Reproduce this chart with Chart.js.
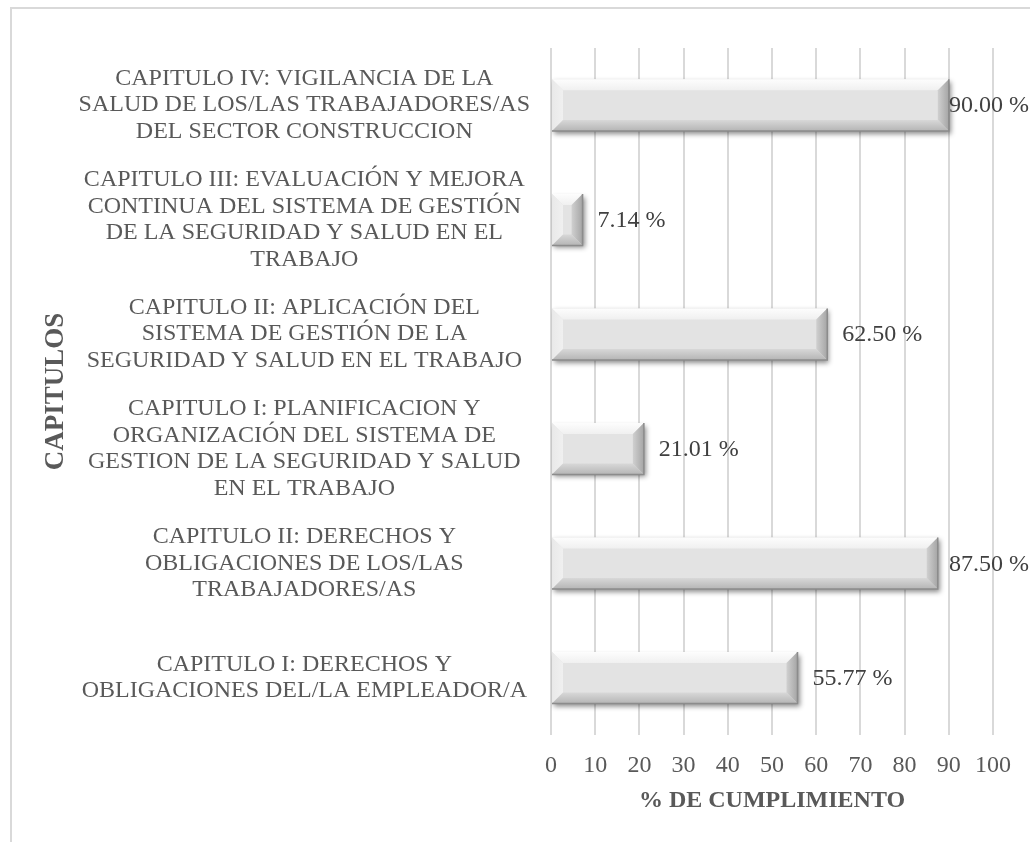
<!DOCTYPE html>
<html>
<head>
<meta charset="utf-8">
<script src="https://cdn.jsdelivr.net/npm/chart.js@4/dist/chart.umd.min.js"></script>
<style>
  html, body { margin: 0; padding: 0; background: #fff; }
  #wrap { width: 1030px; height: 842px; }
</style>
</head>
<body>
<div id="wrap"><canvas id="bar-chart"></canvas></div>
<script>
const categories = [
    ["CAPITULO IV: VIGILANCIA DE LA", "SALUD DE LOS/LAS TRABAJADORES/AS", "DEL SECTOR CONSTRUCCION"],
    ["CAPITULO III: EVALUACIÓN Y MEJORA", "CONTINUA DEL SISTEMA DE GESTIÓN", "DE LA SEGURIDAD Y SALUD EN EL", "TRABAJO"],
    ["CAPITULO II: APLICACIÓN DEL", "SISTEMA DE GESTIÓN DE LA", "SEGURIDAD Y SALUD EN EL TRABAJO"],
    ["CAPITULO I: PLANIFICACION Y", "ORGANIZACIÓN DEL SISTEMA DE", "GESTION DE LA SEGURIDAD Y SALUD", "EN EL TRABAJO"],
    ["CAPITULO II: DERECHOS Y", "OBLIGACIONES DE LOS/LAS", "TRABAJADORES/AS"],
    ["CAPITULO I: DERECHOS Y", "OBLIGACIONES DEL/LA EMPLEADOR/A"]
]
const cumplimiento = [90.00, 7.14, 62.50, 21.01, 87.50, 55.77]
const xTickValues = [0, 10, 20, 30, 40, 50, 60, 70, 80, 90, 100]
const xTitle = "% DE CUMPLIMIENTO"
const yTitle = "CAPITULOS"

const serif = "'Liberation Serif', 'Times New Roman', serif"
const textGrey = '#595959'

// marco del grafico (solo arriba e izquierda, el resto queda fuera)
const framePlugin = {
    id: 'frame',
    beforeDraw(chart) {
        const ctx = chart.ctx
        ctx.save()
        ctx.fillStyle = '#fff'
        ctx.fillRect(0, 0, chart.width, chart.height)
        ctx.strokeStyle = '#d9d9d9'
        ctx.lineWidth = 2
        ctx.beginPath()
        ctx.moveTo(chart.width, 8)
        ctx.lineTo(11, 8)
        ctx.lineTo(11, chart.height)
        ctx.stroke()
        ctx.restore()
    }
}

// sombra + bisel de las barras
const bevelPlugin = {
    id: 'bevel',
    beforeDatasetsDraw(chart) {
        const ctx = chart.ctx
        ctx.save()
        ctx.shadowColor = 'rgba(0,0,0,0.45)'
        ctx.shadowBlur = 5
        ctx.shadowOffsetX = 2
        ctx.shadowOffsetY = 3
    },
    afterDatasetsDraw(chart) {
        const ctx = chart.ctx
        ctx.restore()
        const meta = chart.getDatasetMeta(0)
        meta.data.forEach(bar => {
            const p = bar.getProps(['x', 'y', 'base', 'height'], true)
            const l = Math.min(p.x, p.base), r = Math.max(p.x, p.base)
            const t = p.y - p.height / 2, b = p.y + p.height / 2
            const bv = Math.min(11, (r - l) / 2, (b - t) / 2)
            const poly = (pts, color) => {
                ctx.beginPath()
                ctx.moveTo(pts[0][0], pts[0][1])
                pts.slice(1).forEach(q => ctx.lineTo(q[0], q[1]))
                ctx.closePath()
                ctx.fillStyle = color
                ctx.fill()
            }
            ctx.save()
            let g = ctx.createLinearGradient(0, t, 0, t + bv)
            g.addColorStop(0, '#fdfdfd'); g.addColorStop(1, '#f0f0f0')
            poly([[l, t], [r, t], [r - bv, t + bv], [l + bv, t + bv]], g)
            g = ctx.createLinearGradient(l, 0, l + bv, 0)
            g.addColorStop(0, '#e9e9e9'); g.addColorStop(1, '#f0f0f0')
            poly([[l, t], [l + bv, t + bv], [l + bv, b - bv], [l, b]], g)
            g = ctx.createLinearGradient(0, b - bv, 0, b)
            g.addColorStop(0, '#d8d8d8'); g.addColorStop(1, '#b5b5b5')
            poly([[l, b], [l + bv, b - bv], [r - bv, b - bv], [r, b]], g)
            g = ctx.createLinearGradient(r - bv, 0, r, 0)
            g.addColorStop(0, '#d0d0d0'); g.addColorStop(1, '#a5a5a5')
            poly([[r, t], [r, b], [r - bv, b - bv], [r - bv, t + bv]], g)
            ctx.strokeStyle = '#8c8c8c'
            ctx.lineWidth = 1.5
            ctx.beginPath()
            ctx.moveTo(r, t); ctx.lineTo(r, b); ctx.lineTo(l, b)
            ctx.stroke()
            ctx.restore()
        })
    }
}

// etiquetas de valor a la derecha de cada barra
const valueLabels = {
    id: 'valueLabels',
    afterDatasetsDraw(chart) {
        const ctx = chart.ctx
        const meta = chart.getDatasetMeta(0)
        ctx.save()
        ctx.font = '24px ' + serif
        ctx.fillStyle = '#404040'
        ctx.textAlign = 'left'
        ctx.textBaseline = 'middle'
        meta.data.forEach((bar, i) => {
            const txt = cumplimiento[i].toFixed(2) + ' %'
            const w = ctx.measureText(txt).width
            const x = Math.min(bar.x + 15, chart.width - w - 1)
            ctx.fillText(txt, x, bar.y + 1)
        })
        ctx.restore()
    }
}

const barConfig = {
    type: 'bar',
    data: {
        labels: categories,
        datasets: [{
            data: cumplimiento,
            backgroundColor: '#e3e3e3',
            borderWidth: 0,
            barPercentage: 0.45,
            categoryPercentage: 1
        }]
    },
    options: {
        indexAxis: 'y',
        responsive: true,
        maintainAspectRatio: false,
        animation: false,
        layout: {
            padding: { left: 11, right: 37, top: 37, bottom: 0 }
        },
        plugins: {
            legend: { display: false },
            tooltip: { enabled: false }
        },
        scales: {
            x: {
                min: xTickValues[0],
                max: xTickValues[xTickValues.length - 1],
                afterFit: s => { s.height = 107 },
                ticks: {
                    stepSize: xTickValues[1] - xTickValues[0],
                    color: textGrey,
                    padding: 16,
                    font: { family: serif, size: 24 }
                },
                grid: { color: '#d9d9d9', lineWidth: 2, drawTicks: false },
                border: { display: false },
                title: {
                    display: true,
                    text: xTitle,
                    color: textGrey,
                    font: { family: serif, size: 24, weight: 'bold' },
                    padding: { top: 0, bottom: 27 }
                }
            },
            y: {
                afterFit: s => { s.width = 540 },
                ticks: {
                    color: textGrey,
                    padding: 21,
                    crossAlign: 'center',
                    font: { family: serif, size: 24, lineHeight: 1.12 }
                },
                grid: { display: false, drawTicks: false },
                border: { display: false },
                title: {
                    display: true,
                    text: yTitle,
                    color: textGrey,
                    font: { family: serif, size: 27, weight: 'bold' },
                    padding: { top: 29, bottom: 0 }
                }
            }
        }
    },
    plugins: [framePlugin, bevelPlugin, valueLabels]
}

new Chart(document.querySelector('#bar-chart'), barConfig)
</script>
</body>
</html>
